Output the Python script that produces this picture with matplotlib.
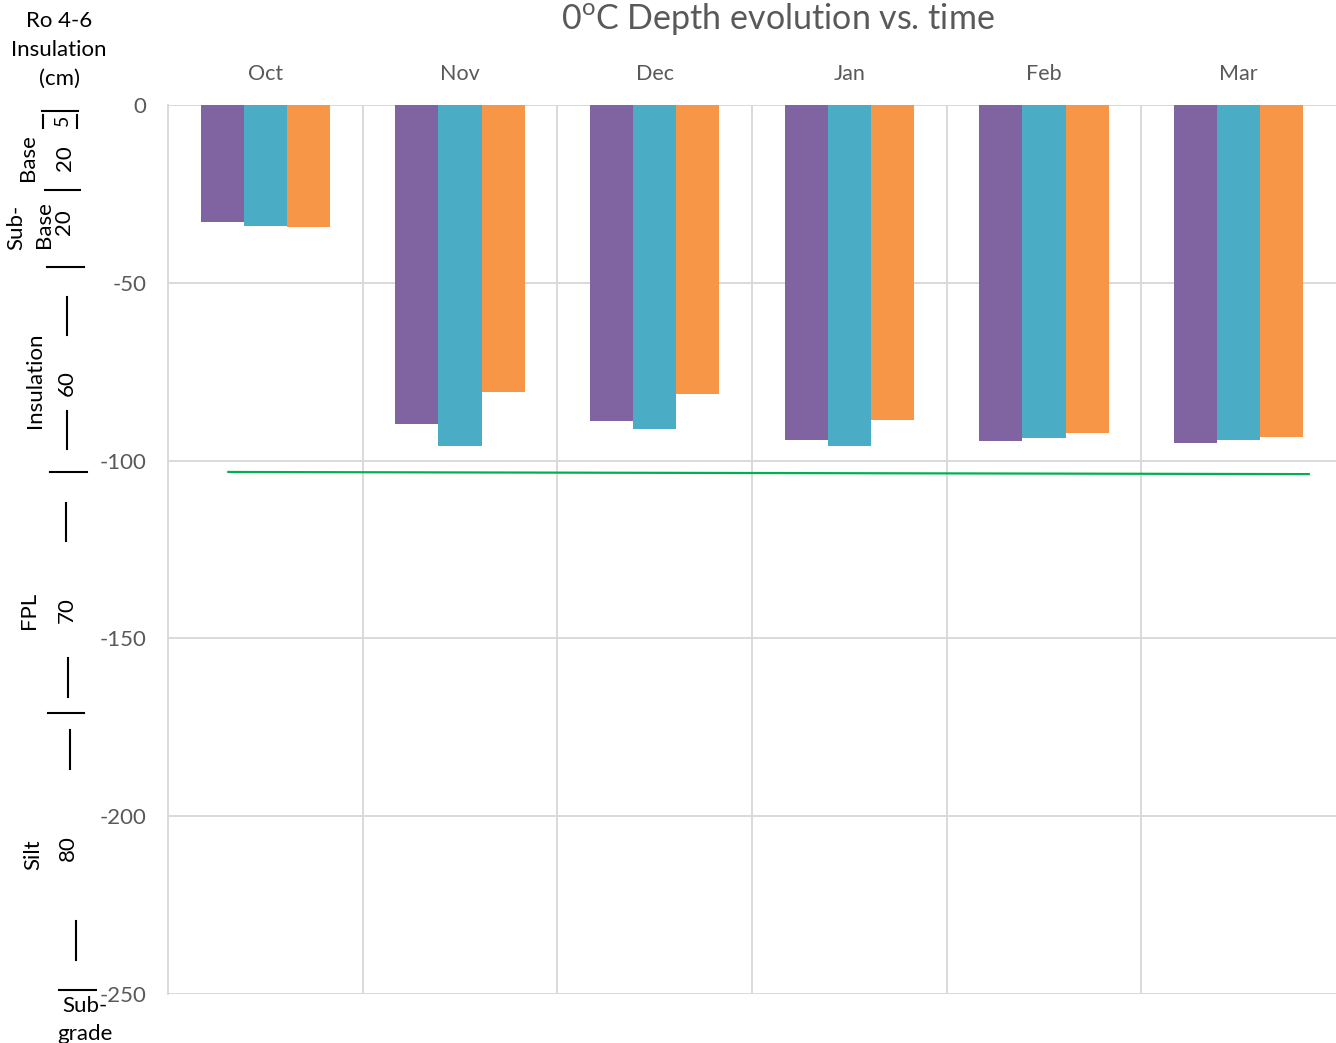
import matplotlib
matplotlib.use("Agg")
import matplotlib.pyplot as plt
from matplotlib.lines import Line2D
import numpy as np

plt.rcParams['font.family'] = ['Lato', 'DejaVu Sans']
plt.rcParams['mathtext.fontset'] = 'custom'
plt.rcParams['mathtext.rm'] = 'Lato'

# ---- data ----
months = ["Oct", "Nov", "Dec", "Jan", "Feb", "Mar"]
depth_a = [-32.9, -89.7, -88.9, -94.2, -94.5, -95.0]   # purple
depth_b = [-34.0, -95.9, -91.1, -95.9, -93.6, -94.2]   # teal
depth_c = [-34.3, -80.7, -81.3, -88.6, -92.2, -93.4]   # orange
fpl_x = [-0.19, 5.36]
fpl_depth = [-103.2, -103.8]
yticks = [0, -50, -100, -150, -200, -250]

W, H = 1336, 1043
fig = plt.figure(figsize=(W / 100, H / 100), dpi=100)
ax = fig.add_axes([168 / W, 1 - 994 / H, 1 - 168 / W, (994 - 105) / H])

x = np.arange(len(months))
bw = 0.222
colors = ["#8064A2", "#4BACC6", "#F79646"]
for off, vals, c in zip([-bw, 0, bw], [depth_a, depth_b, depth_c], colors):
    ax.bar(x + off, vals, width=bw, color=c, zorder=3)

ax.plot(fpl_x, fpl_depth, color="#00B050", lw=1.6, zorder=4)

ax.set_xlim(-0.5, 5.5)
ax.set_ylim(-250, 0)
ax.set_yticks(yticks)
ax.set_yticklabels([str(v) for v in yticks])
grid_c = "#D9D9D9"
for yv in yticks:
    ax.axhline(yv, color=grid_c, lw=1.4, zorder=1)
for b in np.arange(0.5, 5.0, 1.0):
    ax.axvline(b, color=grid_c, lw=1.4, zorder=1)
for s in ["top", "right", "bottom"]:
    ax.spines[s].set_visible(False)
ax.spines["left"].set_color(grid_c)
ax.spines["left"].set_linewidth(1.4)
ax.tick_params(axis="y", length=0, pad=15.5, labelsize=16, labelcolor="#595959")
ax.tick_params(axis="x", length=0, labelsize=15.5, labelcolor="#595959",
               top=True, labeltop=True, bottom=False, labelbottom=False, pad=15)
ax.set_xticks(x)
ax.set_xticklabels(months)

fig.text(778 / W, 1 - 19 / H, r"0$^{\mathrm{o}}$C Depth evolution vs. time",
         ha="center", va="center", fontsize=24.5, color="#595959")

# ---- left-hand layer annotation ----
def px(xp, yp):
    return xp / W, 1 - yp / H

def txt(xp, yp, s, rot=90, size=16, **kw):
    fig.text(*px(xp, yp), s, rotation=rot, ha="center", va="center",
             fontsize=size, color="black", **kw)

def seg(x0, y0, x1, y1):
    a = px(x0, y0)
    b = px(x1, y1)
    fig.add_artist(Line2D([a[0], b[0]], [a[1], b[1]], color="black", lw=1.5,
                          transform=fig.transFigure))

txt(59, 50, "Ro 4-6\nInsulation\n(cm)", rot=0, linespacing=1.55)
seg(42, 111, 78, 111)
seg(43, 115, 43, 128)
seg(77, 115, 77, 128)
txt(62, 120, "5", size=14)
txt(28, 158, "Base")
txt(65, 158, "20")
seg(45, 190, 80, 190)
txt(16, 227, "Sub-")
txt(44, 225, "Base")
txt(64, 222, "20")
seg(47, 267, 84, 267)
seg(67, 297, 67, 335)
txt(35, 380, "Insulation")
txt(67, 383, "60")
seg(67, 411, 67, 449)
seg(50, 472, 87, 472)
seg(66, 503, 66, 541)
txt(29, 610, "FPL")
txt(67, 610, "70")
seg(68, 658, 68, 697)
seg(48, 713, 84, 713)
seg(70, 730, 70, 769)
txt(33, 855, "Silt")
txt(68, 848, "80")
seg(76, 921, 76, 960)
seg(59, 990, 96, 990)
txt(85, 1020, "Sub-\ngrade", rot=0, linespacing=1.55)

fig.savefig("out.png", dpi=100)
